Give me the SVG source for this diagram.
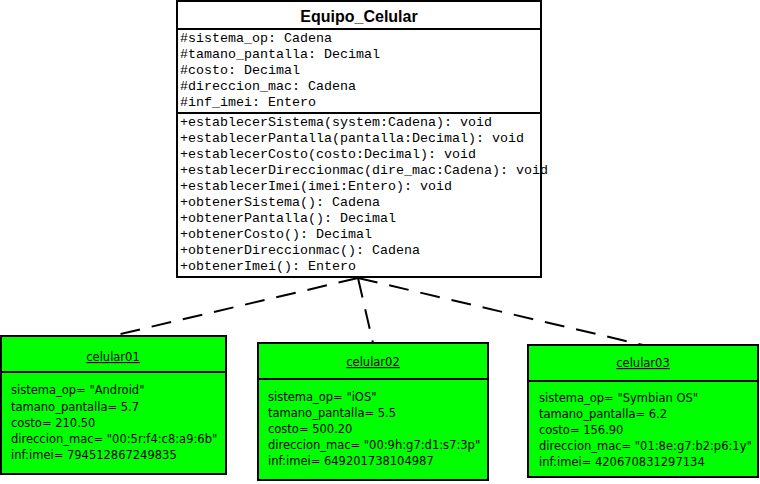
<svg xmlns="http://www.w3.org/2000/svg" width="760" height="484" viewBox="0 0 760 484">
  <style>
    .box { stroke: #000; stroke-width: 2; }
    .cls { fill: #fff; }
    .obj { fill: #00ff00; }
    .sep { stroke: #000; stroke-width: 2; }
    .title { font-family: "Liberation Sans", Arial, sans-serif; font-size: 16px; font-weight: bold; fill: #000; text-anchor: middle; }
    .mono { font-family: "Liberation Mono", "Courier New", monospace; font-size: 13.33px; fill: #000; }
    .oname { font-family: "DejaVu Sans", Verdana, sans-serif; font-size: 11.5px; fill: #000; text-anchor: middle; text-decoration: underline; }
    .oattr { font-family: "DejaVu Sans", Verdana, sans-serif; font-size: 11.5px; fill: #000; }
    .dep { fill: none; stroke: #000; stroke-width: 2; stroke-dasharray: 20 12; }
  </style>

  <!-- dependency connectors from each instance to the class -->
  <g id="connectors">
    <line class="dep" x1="358" y1="278" x2="112" y2="336"/>
    <line class="dep" x1="358" y1="278" x2="373" y2="343"/>
    <line class="dep" x1="358" y1="278" x2="643" y2="345"/>
  </g>

  <!-- class Equipo_Celular -->
  <g id="Equipo_Celular">
    <rect class="box cls" x="177" y="1" width="364" height="276"/>
    <line class="sep" x1="177" y1="29" x2="541" y2="29"/>
    <line class="sep" x1="177" y1="113" x2="541" y2="113"/>
    <text class="title" x="359" y="22">Equipo_Celular</text>
    <text class="mono" x="180" y="42">#sistema_op: Cadena</text>
    <text class="mono" x="180" y="58">#tamano_pantalla: Decimal</text>
    <text class="mono" x="180" y="74">#costo: Decimal</text>
    <text class="mono" x="180" y="90">#direccion_mac: Cadena</text>
    <text class="mono" x="180" y="106">#inf_imei: Entero</text>
    <text class="mono" x="180" y="126">+establecerSistema(system:Cadena): void</text>
    <text class="mono" x="180" y="142">+establecerPantalla(pantalla:Decimal): void</text>
    <text class="mono" x="180" y="158">+establecerCosto(costo:Decimal): void</text>
    <text class="mono" x="180" y="174">+establecerDireccionmac(dire_mac:Cadena): void</text>
    <text class="mono" x="180" y="190">+establecerImei(imei:Entero): void</text>
    <text class="mono" x="180" y="206">+obtenerSistema(): Cadena</text>
    <text class="mono" x="180" y="222">+obtenerPantalla(): Decimal</text>
    <text class="mono" x="180" y="238">+obtenerCosto(): Decimal</text>
    <text class="mono" x="180" y="254">+obtenerDireccionmac(): Cadena</text>
    <text class="mono" x="180" y="270">+obtenerImei(): Entero</text>
  </g>

  <!-- instance celular01 -->
  <g id="celular01">
    <rect class="box obj" x="1" y="336" width="225" height="138"/>
    <line class="sep" x1="1" y1="372" x2="226" y2="372"/>
    <text class="oname" x="113" y="361">celular01</text>
    <text class="oattr" x="11" y="394">sistema_op= "Android"</text>
    <text class="oattr" x="11" y="411">tamano_pantalla= 5.7</text>
    <text class="oattr" x="11" y="427">costo= 210.50</text>
    <text class="oattr" x="11" y="443">direccion_mac= "00:5r:f4:c8:a9:6b"</text>
    <text class="oattr" x="11" y="459">inf:imei= 794512867249835</text>
  </g>

  <!-- instance celular02 -->
  <g id="celular02">
    <rect class="box obj" x="258" y="343" width="230" height="137"/>
    <line class="sep" x1="258" y1="379" x2="488" y2="379"/>
    <text class="oname" x="373" y="366">celular02</text>
    <text class="oattr" x="268" y="401">sistema_op= "iOS"</text>
    <text class="oattr" x="268" y="417">tamano_pantalla= 5.5</text>
    <text class="oattr" x="268" y="433">costo= 500.20</text>
    <text class="oattr" x="268" y="449">direccion_mac= "00:9h:g7:d1:s7:3p"</text>
    <text class="oattr" x="268" y="465">inf:imei= 649201738104987</text>
  </g>

  <!-- instance celular03 -->
  <g id="celular03">
    <rect class="box obj" x="528" y="345" width="230" height="132"/>
    <line class="sep" x1="528" y1="381" x2="758" y2="381"/>
    <text class="oname" x="643" y="367">celular03</text>
    <text class="oattr" x="539" y="402">sistema_op= "Symbian OS"</text>
    <text class="oattr" x="539" y="418">tamano_pantalla= 6.2</text>
    <text class="oattr" x="539" y="434">costo= 156.90</text>
    <text class="oattr" x="539" y="450">direccion_mac= "01:8e:g7:b2:p6:1y"</text>
    <text class="oattr" x="539" y="466">inf:imei= 420670831297134</text>
  </g>
</svg>
